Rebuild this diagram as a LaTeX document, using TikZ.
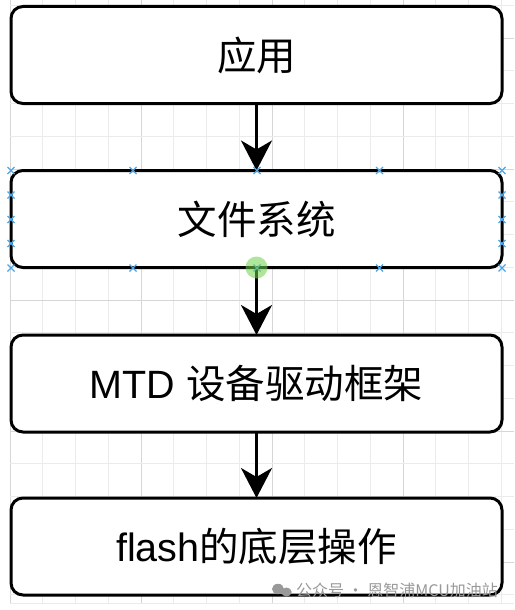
\documentclass[tikz,border=0pt]{standalone}
\usepackage{fontspec}
\setmainfont{Liberation Sans}
\newfontfamily\cjk{Noto Sans CJK SC}
\usetikzlibrary{arrows.meta,calc}
\definecolor{handleblue}{HTML}{4DA6E8}
\definecolor{hintgreen}{HTML}{6FD24A}
\begin{document}
\begin{tikzpicture}[x=1pt,y=-1pt,
    layer/.style={draw, fill=white, line width=3pt, rounded corners=12pt,
      minimum width=491pt, minimum height=97pt, outer sep=0pt,
      font=\fontsize{39.5}{46}\selectfont},
    flow/.style={line width=2.5pt, -{Stealth[length=30pt,width=31pt,inset=9pt]}},
    minorgrid/.style={line width=0.7pt, black!8},
    majorgrid/.style={line width=0.8pt, black!16},
    handle/.style={handleblue, line width=1.1pt}]
  \useasboundingbox (0,0) rectangle (514,610);
  % grid
  \foreach \i in {0,...,15} {
    \pgfmathsetmacro{\gx}{10+32.75*\i}
    \pgfmathtruncatemacro{\m}{mod(\i,4)}
    \ifnum\m=0 \draw[majorgrid] (\gx,0) -- (\gx,603);
    \else \draw[minorgrid] (\gx,0) -- (\gx,603); \fi
  }
  \foreach \j in {0,...,18} {
    \pgfmathsetmacro{\gy}{5.25+32.75*\j}
    \pgfmathtruncatemacro{\m}{mod(\j,4)}
    \ifnum\m=1 \draw[majorgrid] (10,\gy) -- (514,\gy);
    \else \draw[minorgrid] (10,\gy) -- (514,\gy); \fi
  }
  \draw[minorgrid] (10,603) -- (514,603);

  % layers
  \node[layer] (app) at (256.5,55) {\cjk 应用};
  \node[layer] (fs) at (256.5,219) {\cjk 文件系统};
  \node[layer] (mtd) at (256.5,383.5) {MTD \cjk 设备驱动框架};
  \node[layer] (flash) at (256.5,546.5) {flash\cjk 的底层操作};

  \draw[flow] (app.south) -- (fs.north);
  \draw[flow] (fs.south) -- (mtd.north);
  \draw[flow] (mtd.south) -- (flash.north);

  % selection handles on fs
  \foreach \hx in {11,133,257,379.5,502} {
    \foreach \hy in {170.5,268} {
      \draw[handle] (\hx-3.5,\hy-3.5) -- (\hx+3.5,\hy+3.5) (\hx-3.5,\hy+3.5) -- (\hx+3.5,\hy-3.5);
    }
  }
  \foreach \hx in {11,502} {
    \foreach \hy in {195,219.5,243.5} {
      \draw[handle] (\hx-3.5,\hy-3.5) -- (\hx+3.5,\hy+3.5) (\hx-3.5,\hy+3.5) -- (\hx+3.5,\hy-3.5);
    }
  }
  \fill[hintgreen, opacity=0.55] (fs.south) circle (11);

  % watermark
  \node[text=black!40, font=\fontsize{16}{19}\selectfont, anchor=east, inner sep=0pt]
    (mark) at (498,590) {\cjk 公众号 · 恩智浦MCU加油站};
  \fill[black!40] ($(mark.west)+(-18,-1)$) ellipse (6 and 5.2);
  \fill[black!40] ($(mark.west)+(-9.5,2)$) ellipse (5.2 and 4.5);
\end{tikzpicture}
\end{document}
